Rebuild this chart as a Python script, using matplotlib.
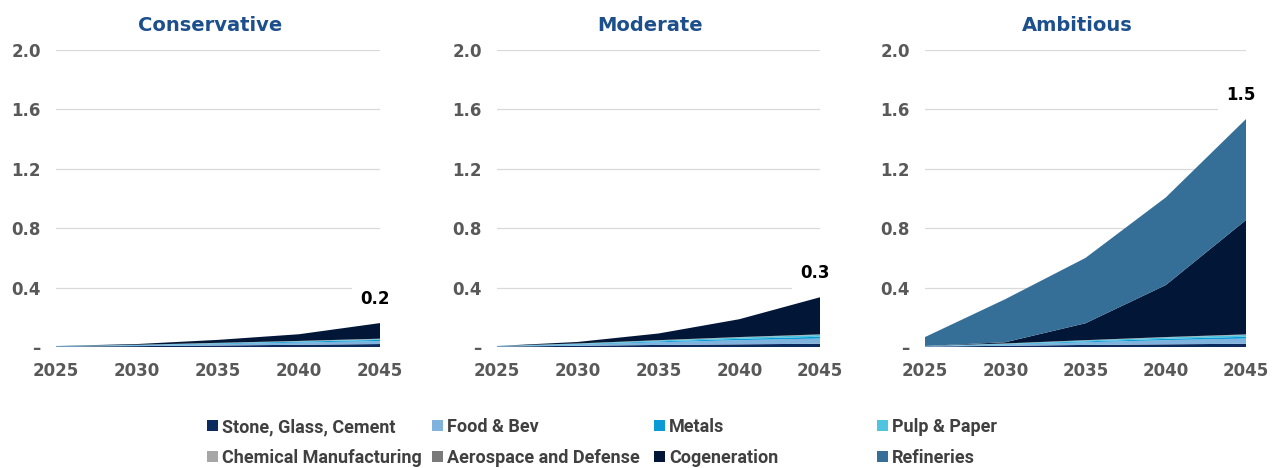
import matplotlib

matplotlib.use("Agg")

import matplotlib.pyplot as plt
from matplotlib.patches import Patch

YEARS = [2025, 2030, 2035, 2040, 2045]
SCENARIOS = ["Conservative", "Moderate", "Ambitious"]
SERIES = [
    "Stone, Glass, Cement",
    "Food & Bev",
    "Metals",
    "Pulp & Paper",
    "Chemical Manufacturing",
    "Aerospace and Defense",
    "Cogeneration",
    "Refineries",
]
COLORS = ["#0b2a5e", "#7fb2dc", "#0a9bd7", "#4fc4df", "#a6a6a6", "#7a7a7a", "#021737", "#356f97"]

CONSERVATIVE = [
    [0.003, 0.006, 0.010, 0.015, 0.020],
    [0.002, 0.005, 0.010, 0.015, 0.020],
    [0.001, 0.002, 0.004, 0.006, 0.008],
    [0.001, 0.001, 0.002, 0.003, 0.005],
    [0.000, 0.001, 0.001, 0.001, 0.002],
    [0.000, 0.000, 0.001, 0.001, 0.001],
    [0.000, 0.005, 0.020, 0.045, 0.105],
    [0.000, 0.000, 0.000, 0.000, 0.000],
]
MODERATE = [
    [0.003, 0.008, 0.014, 0.018, 0.022],
    [0.002, 0.008, 0.018, 0.028, 0.035],
    [0.001, 0.003, 0.006, 0.009, 0.012],
    [0.001, 0.003, 0.006, 0.009, 0.012],
    [0.000, 0.001, 0.001, 0.002, 0.002],
    [0.000, 0.001, 0.001, 0.001, 0.002],
    [0.000, 0.010, 0.045, 0.120, 0.250],
    [0.000, 0.000, 0.000, 0.000, 0.000],
]
AMBITIOUS = [
    [0.003, 0.008, 0.014, 0.018, 0.022],
    [0.002, 0.008, 0.018, 0.028, 0.035],
    [0.001, 0.003, 0.006, 0.009, 0.012],
    [0.001, 0.003, 0.006, 0.009, 0.012],
    [0.000, 0.001, 0.001, 0.002, 0.002],
    [0.000, 0.001, 0.001, 0.001, 0.002],
    [0.000, 0.008, 0.114, 0.350, 0.770],
    [0.060, 0.290, 0.440, 0.590, 0.680],
]
END_LABELS = ["0.2", "0.3", "1.5"]

Y_TICKS = [0, 0.4, 0.8, 1.2, 1.6, 2.0]
Y_TICK_LABELS = ["–", "0.4", "0.8", "1.2", "1.6", "2.0"]

TITLE_COLOR = "#1c4f8c"
TICK_COLOR = "#595959"

fig = plt.figure(figsize=(12.75, 4.68), dpi=100)
fig.patch.set_facecolor("white")

lefts = [56 / 1275, 497 / 1275, 925 / 1275]
widths = [324 / 1275, 323 / 1275, 321 / 1275]
bottom = 1 - 347 / 468
height = (347 - 50) / 468

for i, data in enumerate([CONSERVATIVE, MODERATE, AMBITIOUS]):
    ax = fig.add_axes([lefts[i], bottom, widths[i], height])
    for y in Y_TICKS:
        ax.axhline(y, color="#d9d9d9", lw=0.9, zorder=0)
    ax.stackplot(YEARS, data, colors=COLORS, lw=0, zorder=2)
    ax.set_xlim(2025, 2045)
    ax.set_ylim(0, 2.0)
    ax.set_xticks(YEARS)
    ax.set_yticks(Y_TICKS)
    ax.set_yticklabels(Y_TICK_LABELS)
    ax.tick_params(length=0, labelsize=12, labelcolor=TICK_COLOR)
    ax.tick_params(axis="y", pad=11)
    ax.tick_params(axis="x", pad=11)
    for lab in ax.get_xticklabels() + ax.get_yticklabels():
        lab.set_fontweight("bold")
    for s in ax.spines.values():
        s.set_visible(False)
    ax.set_title(SCENARIOS[i], fontsize=14, fontweight="bold", color=TITLE_COLOR,
                 pad=14, x=0.475)
    total = sum(series[-1] for series in data)
    ax.text(2044.7, total + 0.1, END_LABELS[i], ha="center", va="bottom",
            fontsize=12, fontweight="bold", color="black", zorder=3,
            bbox=dict(facecolor="white", edgecolor="none", pad=6))

# legend laid out in four columns, two rows
col_x = [207 / 1275, 432 / 1275, 654 / 1275, 877 / 1275]
for c in range(4):
    idx = [c, c + 4]
    handles = [Patch(facecolor=COLORS[k], edgecolor="none") for k in idx]
    fig.legend(handles, [SERIES[k] for k in idx], loc="upper left",
               bbox_to_anchor=(col_x[c], 1 - 418 / 468), frameon=False,
               handlelength=0.6, handleheight=0.6, handletextpad=0.25,
               labelspacing=0.72, borderaxespad=0, borderpad=0,
               prop={"family": ["Roboto", "DejaVu Sans"],
                     "weight": "bold", "size": 13},
               labelcolor="#404040")

fig.savefig("out.png", dpi=100)
